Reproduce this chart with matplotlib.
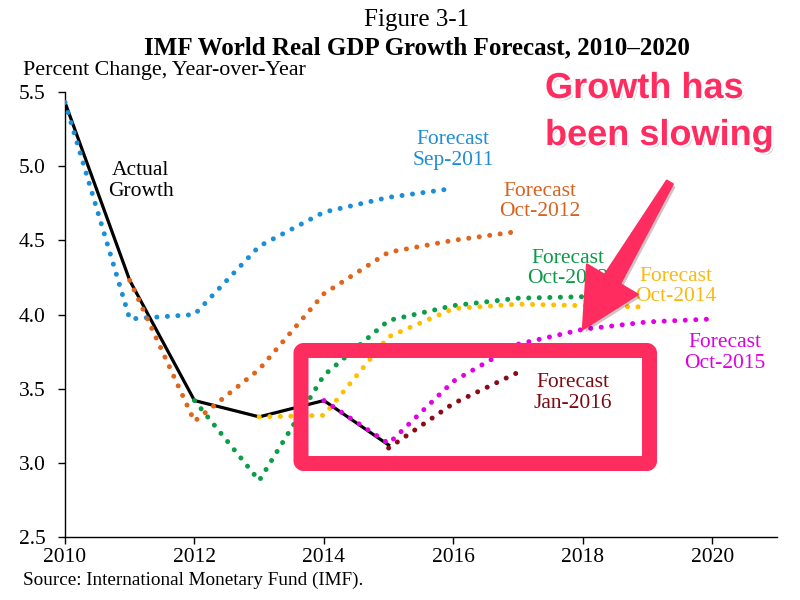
import numpy as np
import matplotlib
matplotlib.use("Agg")
from matplotlib import pyplot as plt
import matplotlib.patches as mpatches
import matplotlib.patheffects as pe
from matplotlib.transforms import IdentityTransform

plt.rcParams['font.family'] = ['Liberation Serif', 'DejaVu Serif']

# Data (percent change, year over year)
actual_years = [2010, 2011, 2012, 2013, 2014, 2015]
actual_growth = [5.43, 4.23, 3.42, 3.31, 3.42, 3.12]

sep2011_years = [2010, 2011, 2012, 2013, 2014, 2015, 2016]
sep2011 = [5.43, 3.97, 4.00, 4.46, 4.69, 4.79, 4.85]
oct2012_years = [2011, 2012, 2013, 2014, 2015, 2016, 2017]
oct2012 = [4.23, 3.28, 3.63, 4.14, 4.42, 4.50, 4.56]
oct2013_years = [2012, 2013, 2014, 2015, 2016, 2017, 2018]
oct2013 = [3.42, 2.88, 3.59, 3.96, 4.06, 4.11, 4.12]
oct2014_years = [2013, 2014, 2015, 2016, 2017, 2018, 2019]
oct2014 = [3.31, 3.32, 3.85, 4.04, 4.07, 4.06, 4.05]
oct2015_years = [2014, 2015, 2016, 2017, 2018, 2019, 2020]
oct2015 = [3.42, 3.13, 3.55, 3.80, 3.90, 3.95, 3.97]
jan2016_years = [2015, 2016, 2017]
jan2016 = [3.10, 3.40, 3.61]

forecast_names = ['Sep-2011', 'Oct-2012', 'Oct-2013', 'Oct-2014', 'Oct-2015', 'Jan-2016']
forecast_years = [sep2011_years, oct2012_years, oct2013_years, oct2014_years, oct2015_years, jan2016_years]
forecast_vals = [sep2011, oct2012, oct2013, oct2014, oct2015, jan2016]
line_colors = ['#1a8fd8', '#e0651c', '#0a9e48', '#ffbf00', '#e400e6', '#8c0a18']
text_colors = ['#1f8dd6', '#d9621f', '#0a9a46', '#f9b90f', '#de00e0', '#7d0a10']
# label anchor (x, y) in data units
label_pos = [(2016.0, 5.11), (2017.34, 4.76), (2017.77, 4.31),
             (2019.44, 4.19), (2020.20, 3.74), (2017.85, 3.47)]

pink = '#ff2d5f'

fig = plt.figure(figsize=(8, 6), dpi=100)
ax = fig.add_axes([65 / 800, 63 / 600, 712 / 800, 445 / 600])

ax.plot(actual_years, actual_growth, color='black', lw=2.3, zorder=2)
ax.text(2011.17, 4.90, 'Actual\nGrowth', ha='center', va='center',
        fontsize=15.5, linespacing=1.12)

for yrs, vals, lc, tc, name, (lx, ly) in zip(forecast_years, forecast_vals, line_colors,
                                            text_colors, forecast_names, label_pos):
    ax.plot(yrs, vals, color=lc, lw=3.6, linestyle=(0, (0.01, 2.1)),
            dash_capstyle='round', zorder=3)
    ax.text(lx, ly, 'Forecast\n' + name, ha='center', va='center', color=tc,
            fontsize=15.5, linespacing=1.1)

ax.set_xlim(2010, 2021)
ax.set_ylim(2.5, 5.5)
ax.set_xticks(range(2010, 2021, 2))
ax.set_yticks(np.arange(2.5, 5.51, 0.5))
ax.set_yticklabels([f'{v:.1f}' for v in np.arange(2.5, 5.51, 0.5)])
ax.spines['top'].set_visible(False)
ax.spines['right'].set_visible(False)
ax.spines['left'].set_linewidth(1.0)
ax.spines['bottom'].set_linewidth(1.0)
ax.tick_params(direction='out', length=5, width=1, labelsize=15.5)
ax.tick_params(axis='y', pad=9)
ax.tick_params(axis='x', pad=3)

fig.text(417 / 800, 1 - 20 / 600, 'Figure 3-1', ha='center', va='center', fontsize=18)
fig.text(417 / 800, 1 - 48 / 600, 'IMF World Real GDP Growth Forecast, 2010\u20132020',
         ha='center', va='center', fontsize=18, fontweight='bold')
fig.text(23 / 800, 1 - 71 / 600, 'Percent Change, Year-over-Year', ha='left', va='center',
         fontsize=15.8)
fig.text(23 / 800, 1 - 580 / 600, 'Source: International Monetary Fund (IMF).', ha='left',
         va='center', fontsize=13.8)

# highlight box (pixel coordinates)
box = mpatches.FancyBboxPatch((301, 600 - 463.5), 348.5, 113,
                              boxstyle='round,pad=0,rounding_size=2.5', lw=10.8,
                              ec=pink, fc='none', joinstyle='round',
                              transform=IdentityTransform(), zorder=4)
fig.add_artist(box)

# arrow pointing at the Oct-2015 forecast for 2018
fig.canvas.draw()
tip = ax.transData.transform((2018, oct2015[4]))
tail = tip + np.array([87.0, 147.0])
u = (tip - tail) / np.linalg.norm(tip - tail)
n = np.array([-u[1], u[0]])
base = tip - 58 * u
arrow_pts = [tail + 3.5 * n, base + 9 * n, base + 29.5 * n, tip,
             base - 29.5 * n, base - 9 * n, tail - 3.5 * n]
arrow = mpatches.Polygon(arrow_pts, closed=True, fc=pink, ec=pink, lw=1.5,
                         joinstyle='round', transform=IdentityTransform(), zorder=5,
                         path_effects=[pe.SimplePatchShadow(offset=(2, -2), alpha=0.25), pe.Normal()])
fig.add_artist(arrow)

callout = dict(ha='left', va='baseline', fontsize=26, fontweight='bold',
               family=['Liberation Sans', 'DejaVu Sans'], color=pink, zorder=6,
               path_effects=[pe.withSimplePatchShadow(offset=(1.5, -1.5), alpha=0.25),
                             pe.Stroke(linewidth=3, foreground='white'), pe.Normal()])
fig.text(545 / 800, 1 - 98 / 600, 'Growth has', **callout)
fig.text(545 / 800, 1 - 145 / 600, 'been slowing', **callout)

fig.savefig('out.png', dpi=100)
